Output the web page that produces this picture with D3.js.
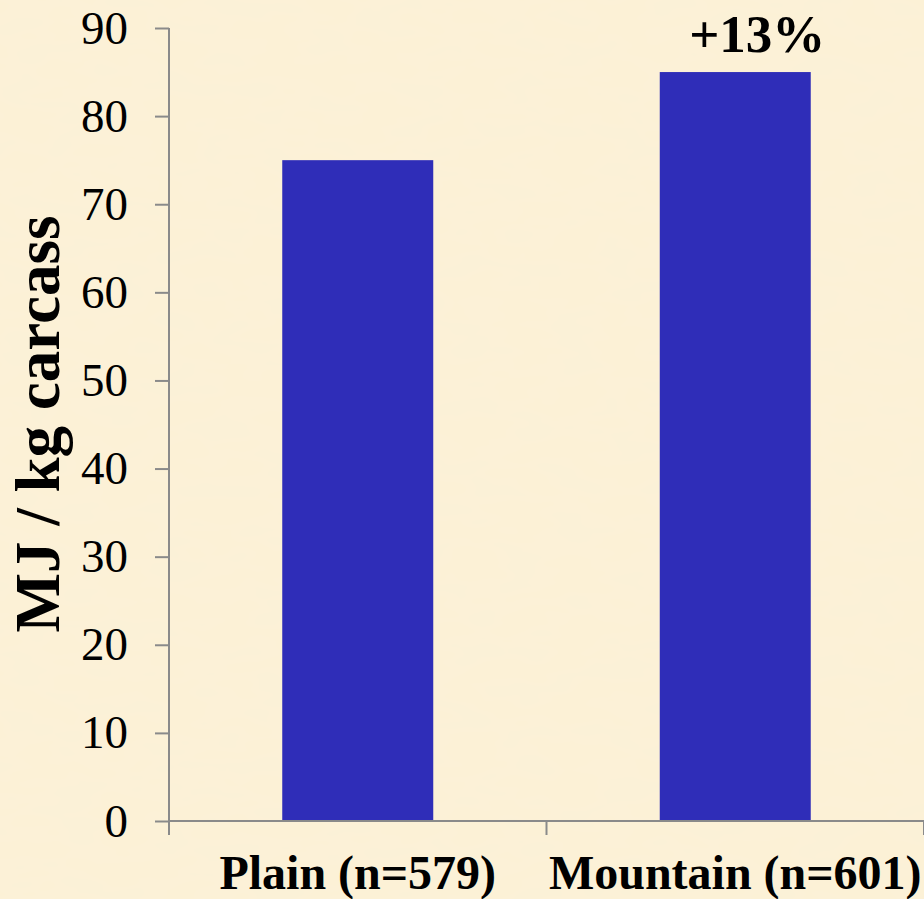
<!DOCTYPE html>
<html>
<head>
<meta charset="utf-8">
<script src="https://cdn.jsdelivr.net/npm/d3@7"></script>
<style>
  body { margin: 0; background: #fbf0d6; }
  svg { display: block; }
</style>
</head>
<body>
<script>
// data
var categories = ["Plain (n=579)", "Mountain (n=601)"];
var values = [75, 85];
var yTicks = [0, 10, 20, 30, 40, 50, 60, 70, 80, 90];
var note = "+13%";

var width = 924, height = 899;
// plot edges (not called "top" -- that clashes with window.top)
var plotL = 169, plotR = 924, plotT = 28, plotB = 821;

var svg = d3.select("body").append("svg")
  .attr("width", width)
  .attr("height", height);

// beige background with a faint blotchy texture
var defs = svg.append("defs");
var filt = defs.append("filter").attr("id", "paper");
filt.append("feTurbulence").attr("type", "fractalNoise")
  .attr("baseFrequency", "0.02 0.05").attr("numOctaves", 2).attr("seed", 3);
filt.append("feColorMatrix").attr("type", "matrix")
  .attr("values", "0 0 0 0 0.93  0 0 0 0 0.88  0 0 0 0 0.72  0 0 0 0.16 0");
svg.append("rect").attr("width", width).attr("height", height).attr("fill", "#fcf1d6");
svg.append("rect").attr("width", width).attr("height", height).attr("filter", "url(#paper)");

var x = d3.scaleBand().domain(categories).range([plotL, plotR]).padding(0);
var y = d3.scaleLinear().domain([0, 90]).range([plotB, plotT]);

var barW = x.step() * 0.4;

// bars
svg.append("g").selectAll("rect")
  .data(values)
  .enter()
  .append("rect")
  .attr("x", (d, i) => x(categories[i]) + x.bandwidth() / 2 - barW / 2)
  .attr("y", d => y(d))
  .attr("width", barW)
  .attr("height", d => y(0) - y(d))
  .attr("fill", "#2f2db8");

// y axis
var yAxis = svg.append("g")
  .attr("transform", "translate(" + plotL + ",0)")
  .call(d3.axisLeft(y).tickValues(yTicks).tickSize(14).tickSizeOuter(0).tickPadding(27));
yAxis.select(".domain").attr("stroke", "#8a8a8a").attr("stroke-width", 2)
  .attr("d", "M0," + plotT + "V" + (plotB + 14));
yAxis.selectAll(".tick line").attr("stroke", "#8a8a8a").attr("stroke-width", 2);
yAxis.selectAll(".tick text")
  .attr("font-family", "'Liberation Serif', 'Times New Roman', serif")
  .attr("font-size", 47)
  .attr("fill", "#000");

// x axis with ticks on band boundaries
var xAxis = svg.append("g");
xAxis.append("line")
  .attr("x1", plotL).attr("x2", plotR)
  .attr("y1", y(0)).attr("y2", y(0))
  .attr("stroke", "#8a8a8a").attr("stroke-width", 2);
xAxis.selectAll(".xt")
  .data(d3.range(categories.length + 1))
  .enter()
  .append("line")
  .attr("class", "xt")
  .attr("x1", i => x.range()[0] + i * x.step())
  .attr("x2", i => x.range()[0] + i * x.step())
  .attr("y1", y(0)).attr("y2", y(0) + 14)
  .attr("stroke", "#8a8a8a").attr("stroke-width", 2);
xAxis.selectAll("text")
  .data(categories)
  .enter()
  .append("text")
  .attr("x", d => x(d) + x.bandwidth() / 2)
  .attr("y", 889)
  .attr("text-anchor", "middle")
  .attr("font-family", "'Liberation Serif', 'Times New Roman', serif")
  .attr("font-weight", "bold")
  .attr("font-size", 48)
  .text(d => d);

// y title
svg.append("text")
  .attr("transform", "translate(59,424) rotate(-90)")
  .attr("text-anchor", "middle")
  .attr("font-family", "'Liberation Serif', 'Times New Roman', serif")
  .attr("font-weight", "bold")
  .attr("font-size", 63)
  .text("MJ / kg carcass");

// difference note above the mountain bar
svg.append("text")
  .attr("x", x(categories[1]) + x.bandwidth() / 2 + 22)
  .attr("y", y(values[1]) - 20)
  .attr("text-anchor", "middle")
  .attr("font-family", "'Liberation Serif', 'Times New Roman', serif")
  .attr("font-weight", "bold")
  .attr("font-size", 53)
  .text(note);
</script>
</body>
</html>
